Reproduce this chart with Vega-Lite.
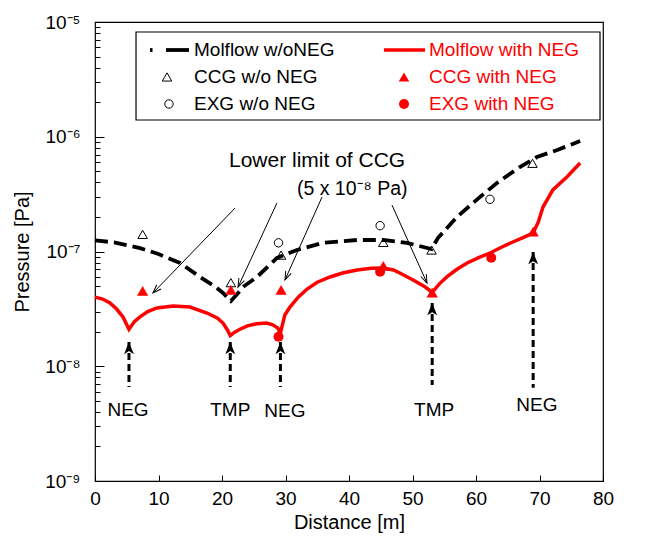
{
  "$schema": "https://vega.github.io/schema/vega-lite/v6.json",
  "width": 508,
  "height": 459,
  "autosize": {"type": "none"},
  "padding": {"left": 95, "top": 22, "right": 44, "bottom": 61},
  "background": "white",
  "config": {
    "font": "Liberation Sans",
    "view": {"stroke": "black", "strokeWidth": 1.2},
    "axis": {"grid": false, "domainColor": "black", "tickColor": "black", "labelColor": "black", "titleColor": "black", "labelFont": "Liberation Sans", "titleFont": "Liberation Sans", "labelFontSize": 19, "titleFontSize": 20, "titleFontWeight": "normal", "labelOverlap": false, "labelFlush": false}
  },
  "datasets": {
    "molflow_wo": [
      {"d": 0, "p": 1.25e-7}, {"d": 3, "p": 1.2e-7}, {"d": 7.09, "p": 1.07e-7}, {"d": 10, "p": 9.5e-8},
      {"d": 13.39, "p": 7.94e-8}, {"d": 16.54, "p": 6.0e-8}, {"d": 19, "p": 4.9e-8}, {"d": 20.16, "p": 4.35e-8},
      {"d": 21.4, "p": 3.7e-8}, {"d": 22.3, "p": 4.2e-8}, {"d": 23.5, "p": 5.0e-8}, {"d": 25.5, "p": 6.0e-8},
      {"d": 28.66, "p": 8.78e-8}, {"d": 31.8, "p": 1.03e-7}, {"d": 35.9, "p": 1.19e-7}, {"d": 41.26, "p": 1.26e-7},
      {"d": 45.35, "p": 1.26e-7}, {"d": 49.1, "p": 1.19e-7}, {"d": 53.0, "p": 1.05e-7}, {"d": 54.0, "p": 1.31e-7},
      {"d": 57.0, "p": 2.0e-7}, {"d": 60.6, "p": 2.98e-7}, {"d": 63.3, "p": 3.95e-7}, {"d": 66.9, "p": 5.45e-7},
      {"d": 69.6, "p": 6.66e-7}, {"d": 72.8, "p": 7.67e-7}, {"d": 76.4, "p": 9.18e-7}
    ],
    "molflow_neg": [
      {"d": 0, "p": 4.0e-8}, {"d": 1.2, "p": 3.85e-8}, {"d": 2.36, "p": 3.56e-8}, {"d": 3.4, "p": 3.15e-8},
      {"d": 4.41, "p": 2.69e-8}, {"d": 5.35, "p": 2.1e-8}, {"d": 6.2, "p": 2.45e-8}, {"d": 7.09, "p": 2.69e-8},
      {"d": 8.3, "p": 3.0e-8}, {"d": 9.76, "p": 3.22e-8}, {"d": 12.28, "p": 3.35e-8}, {"d": 14.96, "p": 3.28e-8},
      {"d": 17.64, "p": 2.91e-8}, {"d": 19.3, "p": 2.62e-8}, {"d": 20.16, "p": 2.38e-8}, {"d": 20.9, "p": 2.05e-8},
      {"d": 21.3, "p": 1.85e-8}, {"d": 22.0, "p": 1.98e-8}, {"d": 22.83, "p": 2.1e-8}, {"d": 24, "p": 2.25e-8},
      {"d": 25.5, "p": 2.35e-8}, {"d": 27.0, "p": 2.38e-8}, {"d": 28.0, "p": 2.3e-8}, {"d": 28.8, "p": 2.15e-8},
      {"d": 29.2, "p": 1.95e-8}, {"d": 29.9, "p": 2.8e-8}, {"d": 30.7, "p": 3.28e-8}, {"d": 32, "p": 4.0e-8},
      {"d": 33.4, "p": 4.71e-8}, {"d": 35, "p": 5.4e-8}, {"d": 37.0, "p": 6.0e-8}, {"d": 39, "p": 6.5e-8},
      {"d": 41.26, "p": 6.9e-8}, {"d": 43.5, "p": 7.15e-8}, {"d": 45.35, "p": 7.18e-8}, {"d": 47, "p": 6.9e-8},
      {"d": 48.0, "p": 6.5e-8}, {"d": 50.1, "p": 5.65e-8}, {"d": 52, "p": 4.9e-8}, {"d": 53.1, "p": 4.4e-8},
      {"d": 54.2, "p": 5.2e-8}, {"d": 55.4, "p": 6.0e-8}, {"d": 57, "p": 7.0e-8}, {"d": 58.6, "p": 7.94e-8},
      {"d": 60.5, "p": 8.9e-8}, {"d": 62.2, "p": 9.7e-8}, {"d": 64, "p": 1.09e-7}, {"d": 65.8, "p": 1.21e-7},
      {"d": 67.5, "p": 1.33e-7}, {"d": 69.0, "p": 1.45e-7}, {"d": 69.8, "p": 1.8e-7}, {"d": 70.55, "p": 2.44e-7},
      {"d": 72.1, "p": 3.44e-7}, {"d": 74.3, "p": 4.46e-7}, {"d": 76.4, "p": 5.9e-7}
    ],
    "ccg_wo": [
      {"d": 7.5, "p": 1.41e-7}, {"d": 21.4, "p": 5.35e-8}, {"d": 29.3, "p": 9.3e-8},
      {"d": 45.4, "p": 1.2e-7}, {"d": 53.0, "p": 1.03e-7}, {"d": 68.9, "p": 5.87e-7}
    ],
    "exg_wo": [
      {"d": 28.9, "p": 1.19e-7}, {"d": 44.9, "p": 1.68e-7}, {"d": 62.2, "p": 2.85e-7}
    ],
    "ccg_neg": [
      {"d": 7.5, "p": 4.53e-8}, {"d": 21.4, "p": 4.62e-8}, {"d": 29.3, "p": 4.62e-8},
      {"d": 45.4, "p": 7.48e-8}, {"d": 53.1, "p": 4.38e-8}, {"d": 69.0, "p": 1.49e-7}
    ],
    "exg_neg": [
      {"d": 28.9, "p": 1.81e-8}, {"d": 44.9, "p": 6.67e-8}, {"d": 62.4, "p": 8.83e-8}
    ],
    "pumps": [
      {"d": 5.35, "p": 1.63e-8, "bottom": 6.6e-9},
      {"d": 21.3, "p": 1.63e-8, "bottom": 6.6e-9},
      {"d": 29.2, "p": 1.63e-8, "bottom": 6.6e-9},
      {"d": 53.1, "p": 3.56e-8, "bottom": 6.87e-9},
      {"d": 69.0, "p": 9.9e-8, "bottom": 6.5e-9}
    ],
    "pump_labels": [
      {"name": "NEG", "d": 5.2, "p": 4.16e-9},
      {"name": "TMP", "d": 21.3, "p": 4.16e-9},
      {"name": "NEG", "d": 29.9, "p": 4.1e-9},
      {"name": "TMP", "d": 53.4, "p": 4.16e-9},
      {"name": "NEG", "d": 69.6, "p": 4.59e-9}
    ],
    "limit_arrows": [
      {"id": 1, "d0": 22.05, "p0": 2.39e-7, "d": 9.13, "p": 4.35e-8},
      {"id": 2, "d0": 28.66, "p0": 2.65e-7, "d": 22.52, "p": 4.9e-8},
      {"id": 3, "d0": 35.75, "p0": 2.98e-7, "d": 29.92, "p": 5.65e-8},
      {"id": 4, "d0": 46.77, "p0": 2.54e-7, "d": 52.28, "p": 5.31e-8}
    ],
    "note_title": [{"d": 21.1, "p": 6.15e-7, "text": "Lower limit of CCG"}],
    "note_value": [{"d": 31.8, "p": 3.5e-7, "text": "(5 x 10⁻⁸ Pa)"}],
    "legend_box": [{"d": 6.46, "d2": 79.53, "p": 8.18e-6, "p2": 1.4e-6}],
    "legend_black_text": [
      {"d": 15.59, "p": 5.7e-6, "text": "Molflow w/oNEG"},
      {"d": 15.59, "p": 3.32e-6, "text": "CCG w/o NEG"},
      {"d": 15.59, "p": 1.93e-6, "text": "EXG w/o NEG"}
    ],
    "legend_red_text": [
      {"d": 52.6, "p": 5.7e-6, "text": "Molflow with NEG"},
      {"d": 52.6, "p": 3.32e-6, "text": "CCG with NEG"},
      {"d": 52.6, "p": 1.93e-6, "text": "EXG with NEG"}
    ],
    "legend_black_dot": [{"d": 8.66, "d2": 9.06, "p": 5.7e-6}],
    "legend_black_line": [{"d": 11.18, "d2": 14.8, "p": 5.7e-6}],
    "legend_red_line": [{"d": 45.5, "d2": 51.97, "p": 5.7e-6}],
    "legend_ccg_wo": [{"d": 11.34, "p": 3.32e-6}],
    "legend_exg_wo": [{"d": 11.65, "p": 1.93e-6}],
    "legend_ccg_neg": [{"d": 48.66, "p": 3.32e-6}],
    "legend_exg_neg": [{"d": 48.66, "p": 1.93e-6}]
  },
  "encoding": {
    "x": {"field": "d", "type": "quantitative", "scale": {"domain": [0, 80], "nice": false, "zero": false}, "axis": {
      "title": "Distance [m]", "values": [0, 10, 20, 30, 40, 50, 60, 70, 80],
      "tickSize": -6, "labelPadding": 14, "titlePadding": 4, "domain": false
    }},
    "y": {"field": "p", "type": "quantitative", "scale": {"type": "log", "domain": [1e-9, 1e-5], "nice": false}, "axis": {
      "title": "Pressure [Pa]",
      "values": [1e-9, 2e-9, 3e-9, 4e-9, 5e-9, 6e-9, 7e-9, 8e-9, 9e-9, 1e-8, 2e-8, 3e-8, 4e-8, 5e-8, 6e-8, 7e-8, 8e-8, 9e-8, 1e-7, 2e-7, 3e-7, 4e-7, 5e-7, 6e-7, 7e-7, 8e-7, 9e-7, 1e-6, 2e-6, 3e-6, 4e-6, 5e-6, 6e-6, 7e-6, 8e-6, 9e-6, 1e-5],
      "labelExpr": "abs(log(datum.value)/LN10 - round(log(datum.value)/LN10)) > 0.01 ? '' : round(log(datum.value)/LN10) == -5 ? '10⁻⁵' : round(log(datum.value)/LN10) == -6 ? '10⁻⁶' : round(log(datum.value)/LN10) == -7 ? '10⁻⁷' : round(log(datum.value)/LN10) == -8 ? '10⁻⁸' : '10⁻⁹'",
      "tickSize": {"condition": {"test": "abs(log(datum.value)/LN10 - round(log(datum.value)/LN10)) < 0.01", "value": -9}, "value": -5},
      "labelPadding": 24, "titlePadding": 12, "domain": false
    }}
  },
  "layer": [
    {
      "data": {"name": "molflow_wo"},
      "mark": {"type": "line", "color": "black", "strokeWidth": 3.8, "strokeDash": [13, 6]}
    },
    {
      "data": {"name": "molflow_neg"},
      "mark": {"type": "line", "color": "#ff0000", "strokeWidth": 3.5}
    },
    {
      "data": {"name": "ccg_wo"},
      "mark": {"type": "point", "shape": "triangle-up", "filled": false, "stroke": "black", "strokeWidth": 1, "size": 90, "opacity": 1}
    },
    {
      "data": {"name": "exg_wo"},
      "mark": {"type": "point", "shape": "circle", "filled": false, "stroke": "black", "strokeWidth": 1, "size": 70, "opacity": 1}
    },
    {
      "data": {"name": "ccg_neg"},
      "mark": {"type": "point", "shape": "triangle-up", "filled": true, "fill": "#ff0000", "stroke": "#ff0000", "strokeWidth": 0.5, "size": 110, "opacity": 1}
    },
    {
      "data": {"name": "exg_neg"},
      "mark": {"type": "point", "shape": "circle", "filled": true, "fill": "#ff0000", "size": 100, "opacity": 1}
    },
    {
      "data": {"name": "pumps"},
      "mark": {"type": "rule", "color": "black", "strokeWidth": 3, "strokeDash": [7, 4]},
      "encoding": {"y2": {"field": "bottom"}}
    },
    {
      "data": {"name": "pumps"},
      "mark": {"type": "point", "shape": "M0,0 L0.8,2 L0,1.5 L-0.8,2 Z", "filled": true, "fill": "black", "size": 150, "opacity": 1}
    },
    {
      "data": {"name": "pump_labels"},
      "mark": {"type": "text", "fontSize": 19, "color": "black", "baseline": "middle", "align": "center"},
      "encoding": {"text": {"field": "name"}}
    },
    {
      "data": {"name": "limit_arrows"},
      "mark": {"type": "rule", "color": "black", "strokeWidth": 1},
      "encoding": {"x2": {"field": "d0"}, "y2": {"field": "p0"}}
    },
    {
      "data": {"name": "limit_arrows"},
      "transform": [{"filter": "datum.id == 1"}],
      "mark": {"type": "point", "shape": "M-0.6,1.7 L0,0 L0.6,1.7", "filled": false, "stroke": "black", "strokeWidth": 1, "size": 100, "angle": 224, "opacity": 1}
    },
    {
      "data": {"name": "limit_arrows"},
      "transform": [{"filter": "datum.id == 2"}],
      "mark": {"type": "point", "shape": "M-0.6,1.7 L0,0 L0.6,1.7", "filled": false, "stroke": "black", "strokeWidth": 1, "size": 100, "angle": 205, "opacity": 1}
    },
    {
      "data": {"name": "limit_arrows"},
      "transform": [{"filter": "datum.id == 3"}],
      "mark": {"type": "point", "shape": "M-0.6,1.7 L0,0 L0.6,1.7", "filled": false, "stroke": "black", "strokeWidth": 1, "size": 100, "angle": 204, "opacity": 1}
    },
    {
      "data": {"name": "limit_arrows"},
      "transform": [{"filter": "datum.id == 4"}],
      "mark": {"type": "point", "shape": "M-0.6,1.7 L0,0 L0.6,1.7", "filled": false, "stroke": "black", "strokeWidth": 1, "size": 100, "angle": 156, "opacity": 1}
    },
    {
      "data": {"name": "note_title"},
      "mark": {"type": "text", "fontSize": 21, "color": "black", "align": "left", "baseline": "middle"},
      "encoding": {"text": {"field": "text"}}
    },
    {
      "data": {"name": "note_value"},
      "mark": {"type": "text", "fontSize": 19.5, "color": "black", "align": "left", "baseline": "middle"},
      "encoding": {"text": {"field": "text"}}
    },
    {
      "data": {"name": "legend_box"},
      "mark": {"type": "rect", "fill": "white", "stroke": "black", "strokeWidth": 1.2},
      "encoding": {"x2": {"field": "d2"}, "y2": {"field": "p2"}}
    },
    {
      "data": {"name": "legend_black_text"},
      "mark": {"type": "text", "fontSize": 19, "color": "black", "align": "left", "baseline": "middle"},
      "encoding": {"text": {"field": "text"}}
    },
    {
      "data": {"name": "legend_red_text"},
      "mark": {"type": "text", "fontSize": 19, "color": "#ff0000", "align": "left", "baseline": "middle"},
      "encoding": {"text": {"field": "text"}}
    },
    {
      "data": {"name": "legend_black_dot"},
      "mark": {"type": "rule", "color": "black", "strokeWidth": 3.8},
      "encoding": {"x2": {"field": "d2"}}
    },
    {
      "data": {"name": "legend_black_line"},
      "mark": {"type": "rule", "color": "black", "strokeWidth": 3.8},
      "encoding": {"x2": {"field": "d2"}}
    },
    {
      "data": {"name": "legend_red_line"},
      "mark": {"type": "rule", "color": "#ff0000", "strokeWidth": 3.5},
      "encoding": {"x2": {"field": "d2"}}
    },
    {
      "data": {"name": "legend_ccg_wo"},
      "mark": {"type": "point", "shape": "triangle-up", "filled": false, "stroke": "black", "strokeWidth": 1, "size": 90, "opacity": 1}
    },
    {
      "data": {"name": "legend_exg_wo"},
      "mark": {"type": "point", "shape": "circle", "filled": false, "stroke": "black", "strokeWidth": 1, "size": 70, "opacity": 1}
    },
    {
      "data": {"name": "legend_ccg_neg"},
      "mark": {"type": "point", "shape": "triangle-up", "filled": true, "fill": "#ff0000", "size": 110, "opacity": 1}
    },
    {
      "data": {"name": "legend_exg_neg"},
      "mark": {"type": "point", "shape": "circle", "filled": true, "fill": "#ff0000", "size": 100, "opacity": 1}
    }
  ]
}
